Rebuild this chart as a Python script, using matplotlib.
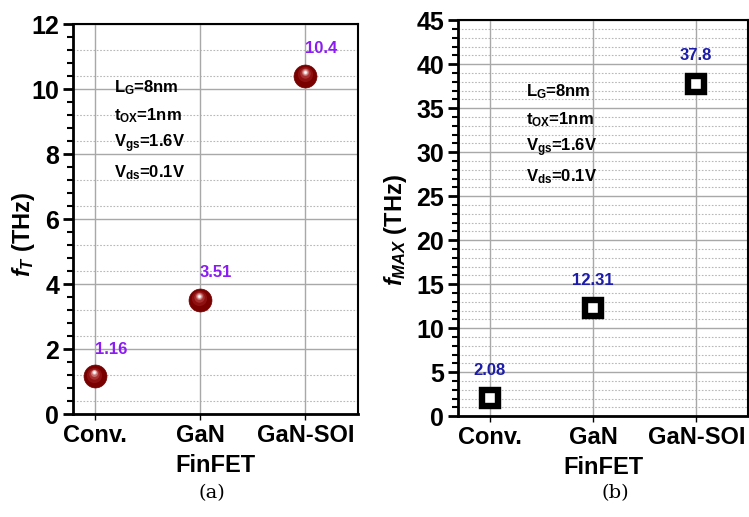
#!/usr/bin/env python3
"""
fT / fMAX comparison of Conv., GaN and GaN-SOI FinFETs (two panels).
Saves out.png
"""

import numpy as np
import matplotlib
matplotlib.use("Agg")
import matplotlib.pyplot as plt
from matplotlib import transforms

plt.rcParams["font.family"] = ["Liberation Sans", "DejaVu Sans"]
plt.rcParams["font.weight"] = "bold"
plt.rcParams["mathtext.fontset"] = "custom"
plt.rcParams["mathtext.it"] = "Liberation Sans:bold:italic"
plt.rcParams["mathtext.rm"] = "Liberation Sans:bold"
plt.rcParams["mathtext.bf"] = "Liberation Sans:bold"

# data
devices = ["Conv.", "GaN", "GaN-SOI"]
ft_thz = [1.16, 3.51, 10.4]
fmax_thz = [2.08, 12.31, 37.8]
ft_labels = ["1.16", "3.51", "10.4"]
fmax_labels = ["2.08", "12.31", "37.8"]
params = [r"L$_\mathrm{G}$=8nm", r"t$_\mathrm{OX}$=1nm",
          r"V$_\mathrm{gs}$=1.6V", r"V$_\mathrm{ds}$=0.1V"]

x = np.arange(len(devices))

fig = plt.figure(figsize=(7.49, 5.17), dpi=100)
ax1 = fig.add_axes([0.0975, 0.199, 0.3805, 0.7545])
ax2 = fig.add_axes([0.6115, 0.195, 0.387, 0.766])


def style_axes(ax, ymax, major, minor, dotted, xleft):
    ax.set_xlim(xleft, 2.5)
    ax.set_ylim(0, ymax)
    ax.set_xticks(x)
    ax.set_xticklabels(devices, fontsize=17, fontweight="bold")
    ax.set_yticks(np.arange(0, ymax + 0.01, major))
    ax.set_yticks(np.arange(0, ymax + 0.01, minor), minor=True)
    for lab in ax.get_yticklabels():
        lab.set_fontsize(18)
        lab.set_fontweight("bold")
    ax.tick_params(axis="y", which="major", direction="out", length=7,
                   width=2, pad=3)
    ax.tick_params(axis="y", which="minor", direction="out", length=4,
                   width=1.5)
    ax.tick_params(axis="x", which="major", direction="out", length=4,
                   width=1, pad=3)
    # grid: solid majors, dotted minors
    ax.grid(True, which="major", color="#a8a8a8", linewidth=1.0)
    for yv in dotted:
        ax.axhline(yv, color="#b8b8b8", linewidth=0.8, linestyle=(0, (1.5, 1.5)),
                   zorder=0.5)
    ax.set_axisbelow(True)
    for side in ["left", "bottom"]:
        ax.spines[side].set_linewidth(2.0)
    for side in ["top", "right"]:
        ax.spines[side].set_linewidth(1.5)
    ax.set_xlabel("FinFET", fontsize=17, fontweight="bold", labelpad=5)


# ---- (a) fT ----
dots_a = [v for k in range(0, 12, 2) for v in (k + 0.4, k + 1.2)]
style_axes(ax1, 12, 2, 0.4, dots_a, -0.21)
ax1.set_ylabel(r"$f_T$ (THz)", fontsize=17, fontweight="bold")
ax1.yaxis.set_label_coords(-0.126, 0.46)

# shaded sphere markers
ax1.plot(x, ft_thz, "o", ms=16.5, color="#7a0000", mec="#6a0000", mew=0.5,
         zorder=3, clip_on=False)
shades = [("#8e1010", 11, 1.2), ("#a83030", 7.5, 2.0), ("#c87070", 5, 2.6),
          ("#e8c0c0", 3.2, 2.9), ("#ffffff", 1.8, 3.0)]
for col, ms, dy in shades:
    tr = transforms.offset_copy(ax1.transData, fig=fig, x=-0.6, y=dy,
                                units="points")
    ax1.plot(x, ft_thz, "o", ms=ms, color=col, mew=0, transform=tr, zorder=4,
             clip_on=False)

for xi, yi, lab in zip(x, ft_thz, ft_labels):
    ax1.annotate(lab, (xi, yi), xytext=(11.5, 19.5), textcoords="offset points",
                 ha="center", va="center", fontsize=12, fontweight="bold",
                 color="#8b1cf2")

for i, t in enumerate(params):
    ax1.text(0.144, 0.836 - i * 0.072, t, transform=ax1.transAxes,
             fontsize=12, fontweight="bold", va="center", ha="left")

# ---- (b) fMAX ----
dots_b = [v for v in range(1, 45) if v % 5 != 0]
style_axes(ax2, 45, 5, 1, dots_b, -0.31)
ax2.set_ylabel(r"$f_{MAX}$ (THz)", fontsize=17, fontweight="bold")
ax2.yaxis.set_label_coords(-0.17, 0.47)
ax2.plot(x, fmax_thz, "s", ms=11.75, mfc="white", mec="black", mew=4.6,
         zorder=3, clip_on=False)

for xi, yi, lab in zip(x, fmax_thz, fmax_labels):
    ax2.annotate(lab, (xi, yi), xytext=(0, 20), textcoords="offset points",
                 ha="center", va="center", fontsize=12, fontweight="bold",
                 color="#1c1ca8")

for i, t in enumerate(params):
    ax2.text(0.233, 0.819 - i * 0.071, t, transform=ax2.transAxes,
             fontsize=12, fontweight="bold", va="center", ha="left")

# captions
fig.text(212 / 749, 1 - 493 / 517, "(a)", ha="center", va="center",
         fontsize=14, family="DejaVu Serif", fontweight="normal")
fig.text(615 / 749, 1 - 493 / 517, "(b)", ha="center", va="center",
         fontsize=14, family="DejaVu Serif", fontweight="normal")

fig.savefig("out.png", dpi=100)
plt.close(fig)
